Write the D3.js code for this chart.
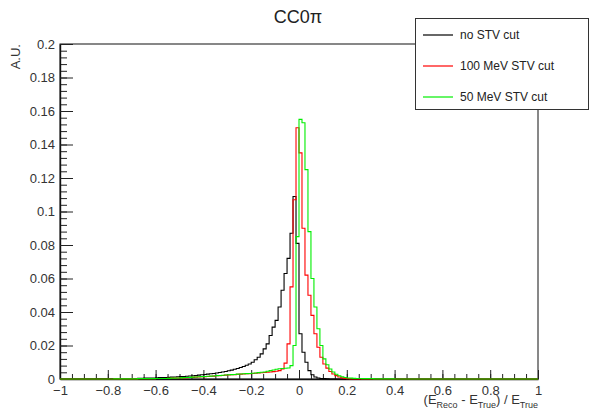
<!DOCTYPE html>
<html>
<head>
<meta charset="utf-8">
<style>
  body { margin: 0; background: #fff; }
  svg { display: block; font-family: 'Liberation Sans', Arial, Helvetica, sans-serif; }
</style>
</head>
<body>
<svg width="590" height="411"></svg>

<script src="https://d3js.org/d3.v7.min.js"></script>
<script>
    // histogram binning: 160 bins of 0.0125 between -1 and 1
    let binLow = -1
    let binWidth = 0.0125

    // bin contents (A.U.)
    let noCut = [
        0.0001, 0.0001, 0.0001, 0.0001, 0.0001, 0.0001, 0.0001, 0.0001, 0.0001, 0.0001,
        0.0001, 0.0001, 0.0002, 0.0002, 0.0002, 0.0002, 0.0002, 0.0002, 0.0002, 0.0002,
        0.0002, 0.0002, 0.0003, 0.0003, 0.0003, 0.0003, 0.0004, 0.0004, 0.0005, 0.0005,
        0.0006, 0.0006, 0.0007, 0.0008, 0.0008, 0.0009, 0.0010, 0.0011, 0.0012, 0.0013,
        0.0014, 0.0015, 0.0016, 0.0018, 0.0019, 0.0021, 0.0023, 0.0025, 0.0027, 0.0029,
        0.0031, 0.0033, 0.0036, 0.0039, 0.0042, 0.0045, 0.0049, 0.0053, 0.0058, 0.0063,
        0.0069, 0.0075, 0.0082, 0.0090, 0.0100, 0.0115, 0.0130, 0.0150, 0.0180, 0.0210,
        0.0260, 0.0310, 0.0350, 0.0430, 0.0530, 0.0630, 0.0720, 0.0870, 0.1090, 0.0810,
        0.0270, 0.0160, 0.0100, 0.0050, 0.0025, 0.0012, 0.0006, 0.0003, 0.0002, 0.0001,
        0, 0, 0, 0, 0, 0, 0, 0, 0, 0,
        0, 0, 0, 0, 0, 0, 0, 0, 0, 0,
        0, 0, 0, 0, 0, 0, 0, 0, 0, 0,
        0, 0, 0, 0, 0, 0, 0, 0, 0, 0,
        0, 0, 0, 0, 0, 0, 0, 0, 0, 0,
        0, 0, 0, 0, 0, 0, 0, 0, 0, 0,
        0, 0, 0, 0, 0, 0, 0, 0, 0, 0
    ]

    let cut100 = [
        0, 0, 0, 0, 0, 0, 0, 0, 0, 0,
        0, 0, 0, 0, 0, 0, 0, 0, 0.0001, 0.0001,
        0.0001, 0.0001, 0.0001, 0.0001, 0.0001, 0.0001, 0.0002, 0.0002, 0.0002, 0.0002,
        0.0002, 0.0002, 0.0003, 0.0003, 0.0003, 0.0003, 0.0004, 0.0005, 0.0005, 0.0006,
        0.0006, 0.0007, 0.0008, 0.0009, 0.0010, 0.0011, 0.0012, 0.0013, 0.0014, 0.0015,
        0.0016, 0.0017, 0.0019, 0.0020, 0.0021, 0.0023, 0.0024, 0.0025, 0.0026, 0.0028,
        0.0029, 0.0030, 0.0031, 0.0032, 0.0033, 0.0034, 0.0036, 0.0037, 0.0039, 0.0040,
        0.0042, 0.0044, 0.0046, 0.0050, 0.0060, 0.0095, 0.0210, 0.0550, 0.1070, 0.1500,
        0.1350, 0.0900, 0.0620, 0.0500, 0.0380, 0.0270, 0.0190, 0.0130, 0.0090, 0.0065,
        0.0045, 0.0030, 0.0020, 0.0012, 0.0007, 0.0004, 0.0002, 0.0001, 0.0001, 0.0001,
        0, 0, 0, 0, 0, 0, 0, 0, 0, 0,
        0, 0, 0, 0, 0, 0, 0, 0, 0, 0,
        0, 0, 0, 0, 0, 0, 0, 0, 0, 0,
        0, 0, 0, 0, 0, 0, 0, 0, 0, 0,
        0, 0, 0, 0, 0, 0, 0, 0, 0, 0,
        0, 0, 0, 0, 0, 0, 0, 0, 0, 0
    ]

    let cut50 = [
        0, 0, 0, 0, 0, 0, 0, 0, 0, 0,
        0, 0, 0, 0, 0, 0, 0, 0, 0.0001, 0.0001,
        0.0001, 0.0001, 0.0001, 0.0001, 0.0001, 0.0001, 0.0002, 0.0002, 0.0002, 0.0002,
        0.0002, 0.0002, 0.0003, 0.0003, 0.0003, 0.0003, 0.0004, 0.0005, 0.0005, 0.0006,
        0.0007, 0.0008, 0.0009, 0.0010, 0.0011, 0.0012, 0.0013, 0.0014, 0.0015, 0.0016,
        0.0017, 0.0018, 0.0020, 0.0021, 0.0022, 0.0024, 0.0025, 0.0026, 0.0027, 0.0029,
        0.0030, 0.0031, 0.0032, 0.0033, 0.0034, 0.0036, 0.0038, 0.0040, 0.0042, 0.0046,
        0.0050, 0.0054, 0.0058, 0.0061, 0.0063, 0.0064, 0.0066, 0.0080, 0.0200, 0.0850,
        0.1550, 0.1530, 0.1250, 0.0880, 0.0600, 0.0430, 0.0300, 0.0200, 0.0120, 0.0085,
        0.0060, 0.0042, 0.0028, 0.0019, 0.0013, 0.0009, 0.0006, 0.0005, 0.0004, 0.0003,
        0.0003, 0.0002, 0.0002, 0.0002, 0.0002, 0.0001, 0.0001, 0.0001, 0.0001, 0.0001,
        0.0001, 0.0001, 0, 0, 0, 0, 0, 0, 0, 0,
        0, 0, 0, 0, 0, 0, 0, 0, 0, 0,
        0, 0, 0, 0, 0, 0, 0, 0, 0, 0,
        0, 0, 0, 0, 0, 0, 0, 0, 0, 0,
        0, 0, 0, 0, 0, 0, 0, 0, 0, 0
    ]

    let seriesNames = ["no STV cut", "100 MeV STV cut", "50 MeV STV cut"]
    let seriesColors = ["#000000", "#ff0000", "#00ee00"]

    let xTicks = [-1, -0.8, -0.6, -0.4, -0.2, 0, 0.2, 0.4, 0.6, 0.8, 1]
    let xTickLabels = ["\u22121", "\u22120.8", "\u22120.6", "\u22120.4", "\u22120.2", "0", "0.2", "0.4", "0.6", "0.8", "1"]
    let yTicks = [0, 0.02, 0.04, 0.06, 0.08, 0.1, 0.12, 0.14, 0.16, 0.18, 0.2]
    let yTickLabels = ["0", "0.02", "0.04", "0.06", "0.08", "0.1", "0.12", "0.14", "0.16", "0.18", "0.2"]

    let svg = d3.select("svg")

    let plotLeft = 60, plotRight = 538, plotTop = 44, plotBottom = 379

    let x = d3.scaleLinear().domain([-1, 1]).range([plotLeft, plotRight])
    let y = d3.scaleLinear().domain([0, 0.2]).range([plotBottom, plotTop])

    // frame
    svg.append("rect")
        .attr("x", plotLeft)
        .attr("y", plotTop)
        .attr("width", plotRight - plotLeft)
        .attr("height", plotBottom - plotTop)
        .style("fill", "none")
        .style("stroke", "#111")
        .style("stroke-width", 1)

    // minor ticks
    let xMinor = d3.range(-1, 1.0001, 0.05)
    let yMinor = d3.range(0, 0.2001, 0.004)

    svg.append("g")
        .attr("transform", `translate(0,${plotBottom})`)
        .call(d3.axisBottom(x).tickValues(xMinor).tickSize(-5).tickFormat(""))
        .call(g => g.select(".domain").remove())

    svg.append("g")
        .attr("transform", `translate(${plotLeft},0)`)
        .call(d3.axisLeft(y).tickValues(yMinor).tickSize(-7).tickFormat(""))
        .call(g => g.select(".domain").remove())

    // major ticks + labels
    svg.append("g")
        .attr("transform", `translate(0,${plotBottom})`)
        .call(d3.axisBottom(x).tickValues(xTicks).tickSize(-9).tickSizeOuter(0).tickPadding(7)
            .tickFormat((d, i) => xTickLabels[i]))

    svg.append("g")
        .attr("transform", `translate(${plotLeft},0)`)
        .call(d3.axisLeft(y).tickValues(yTicks).tickSize(-13).tickSizeOuter(0).tickPadding(5)
            .tickFormat((d, i) => yTickLabels[i]))

    svg.selectAll(".tick line").style("stroke", "#222")
    svg.selectAll(".domain").style("stroke", "#111").style("stroke-width", 1.4)
    svg.selectAll(".tick text")
        .style("font-size", "13px")
        .style("fill", "#333")
        .style("font-family", "'Liberation Sans', Arial, sans-serif")

    // histograms
    let line = d3.line()
        .x(d => x(d[0]))
        .y(d => y(d[1]))
        .curve(d3.curveStepAfter)

    function toSteps(values) {
        let pts = values.map((v, i) => [binLow + i * binWidth, v])
        pts.push([binLow + values.length * binWidth, values[values.length - 1]])
        return pts
    }

    let allSeries = [noCut, cut100, cut50]

    svg.append("g")
        .selectAll("path")
        .data(allSeries)
        .join("path")
        .attr("d", d => line(toSteps(d)))
        .style("fill", "none")
        .style("stroke", (d, i) => seriesColors[i])
        .style("stroke-width", 1.1)

    // title
    svg.append("text")
        .attr("x", 298)
        .attr("y", 23)
        .attr("text-anchor", "middle")
        .style("font-size", "18px")
        .style("fill", "#222")
        .text("CC0\u03c0")

    // y axis title
    svg.append("text")
        .attr("transform", `translate(20,${plotTop}) rotate(-90)`)
        .attr("text-anchor", "end")
        .style("font-size", "13px")
        .style("fill", "#333")
        .text("A.U.")

    // x axis title
    let xt = svg.append("text")
        .attr("x", plotRight)
        .attr("y", 404)
        .attr("text-anchor", "end")
        .style("font-size", "13px")
        .style("fill", "#333")
    xt.append("tspan").text("(E")
    xt.append("tspan").attr("dy", 4).style("font-size", "9px").text("Reco")
    xt.append("tspan").attr("dy", -4).text(" - E")
    xt.append("tspan").attr("dy", 4).style("font-size", "9px").text("True")
    xt.append("tspan").attr("dy", -4).text(") / E")
    xt.append("tspan").attr("dy", 4).style("font-size", "9px").text("True")

    // legend
    let legend = svg.append("g")
    legend.append("rect")
        .attr("x", 415.5)
        .attr("y", 18.5)
        .attr("width", 173)
        .attr("height", 91)
        .style("fill", "#fff")
        .style("stroke", "#333")
        .style("stroke-width", 1)

    let rows = legend.selectAll(".row")
        .data(seriesNames)
        .join("g")
        .attr("class", "row")
        .attr("transform", (d, i) => `translate(0,${35 + i * 31})`)

    rows.append("line")
        .attr("x1", 423)
        .attr("x2", 453)
        .style("stroke", (d, i) => seriesColors[i])
        .style("stroke-width", 1.2)

    rows.append("text")
        .attr("x", 460)
        .attr("dy", "0.35em")
        .style("font-size", "12px")
        .style("fill", "#222")
        .text(d => d)
</script>
</body>
</html>
